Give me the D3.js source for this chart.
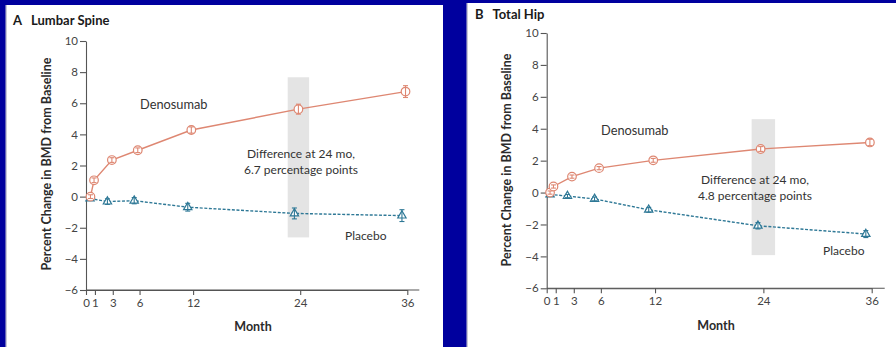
<!DOCTYPE html>
<html>
<head>
<meta charset="utf-8">
<script src="https://cdn.jsdelivr.net/npm/d3@7"></script>
<style>
  html, body { margin: 0; padding: 0; background: #00009e; }
  svg { display: block; }
  text { font-family: Lato, "Noto Sans", sans-serif; }
</style>
</head>
<body>
<svg id="chart" width="896" height="347"></svg>
<script>
// Month ticks shared by both panels
const monthTicks = [0, 1, 3, 6, 12, 24, 36];
const yTicks = [-6, -4, -2, 0, 2, 4, 6, 8, 10];

// Panel A — lumbar spine (% change in BMD)
const spineDenoMonth = [0.5, 0.9, 2.9, 5.8, 11.8, 23.8, 35.8];
const spineDeno      = [0.0, 1.05, 2.35, 2.98, 4.28, 5.62, 6.75];
const spineDenoErr   = [0.12, 0.15, 0.15, 0.15, 0.2, 0.32, 0.38];
const spinePlacMonth = [0.45, 2.4, 5.4, 11.4, 23.35, 35.4];
const spinePlac      = [-0.12, -0.32, -0.26, -0.68, -1.08, -1.22];
const spinePlacErr   = [0.12, 0.18, 0.2, 0.25, 0.35, 0.38];

// Panel B — total hip (% change in BMD)
const hipDenoMonth = [0.37, 0.75, 2.8, 5.8, 11.8, 23.7, 35.8];
const hipDeno      = [0.0, 0.38, 1.0, 1.53, 2.02, 2.73, 3.14];
const hipDenoErr   = [0.1, 0.1, 0.1, 0.1, 0.12, 0.15, 0.2];
const hipPlacMonth = [0.37, 2.3, 5.3, 11.3, 23.4, 35.35];
const hipPlac      = [-0.12, -0.22, -0.4, -1.08, -2.08, -2.6];
const hipPlacErr   = [0.1, 0.1, 0.12, 0.15, 0.2, 0.22];

const svg = d3.select("#chart");
const DENO = "#de8772";
const PLAC = "#2e7896";
const INK = "#2b2b2b";

function panel(cfg) {
  const g = svg.append("g");
  // white card with a thin grey left edge
  g.append("rect").attr("x", cfg.card[0] - 1.5).attr("y", cfg.card[1])
    .attr("width", 1.5).attr("height", 347 - cfg.card[1]).attr("fill", "#c9c9d6");
  g.append("rect").attr("x", cfg.card[0]).attr("y", cfg.card[1])
    .attr("width", cfg.card[2]).attr("height", 347 - cfg.card[1]).attr("fill", "#ffffff");

  const x = d3.scaleLinear().domain([0, 36]).range(cfg.xr);
  const y = d3.scaleLinear().domain([-6, 10]).range(cfg.yr);

  // shaded difference band at 24 months
  g.append("rect")
    .attr("x", x(cfg.band[0])).attr("width", x(cfg.band[1]) - x(cfg.band[0]))
    .attr("y", y(cfg.band[3])).attr("height", y(cfg.band[2]) - y(cfg.band[3]))
    .attr("fill", "#e4e4e4");

  // axes
  const ya = g.append("g").attr("transform", `translate(${x(0)},0)`)
    .call(d3.axisLeft(y).tickValues(yTicks).tickSize(6).tickSizeOuter(0).tickPadding(2));
  const xa = g.append("g").attr("transform", `translate(0,${y(-6)})`)
    .call(d3.axisBottom(x).tickValues(monthTicks).tickSize(5).tickSizeOuter(0).tickPadding(4));
  [ya, xa].forEach(a => {
    a.selectAll("path, line").attr("stroke", "#555").attr("stroke-width", 1.1);
    a.selectAll("text").attr("fill", "#444").style("font-size", "11.5px")
      .style("font-family", "Lato, 'Noto Sans', sans-serif");
  });
  // x-axis line runs a little past the last tick
  g.append("line").attr("x1", x(0)).attr("x2", x(36) + cfg.xExtra)
    .attr("y1", y(-6)).attr("y2", y(-6)).attr("stroke", "#555").attr("stroke-width", 1.1);

  // series
  function series(months, vals, errs, color, dashed, shape) {
    const pts = months.map((m, i) => ({ m, v: vals[i], e: errs[i] }));
    const line = d3.line().x(d => x(d.m)).y(d => y(d.v));
    g.append("path").datum(pts).attr("d", line).attr("fill", "none")
      .attr("stroke", color).attr("stroke-width", 1.4)
      .attr("stroke-dasharray", dashed ? "3,1.6" : null);
    const mk = g.append("g").selectAll("g").data(pts).join("g")
      .attr("transform", d => `translate(${x(d.m)},${y(d.v)})`);
    if (shape === "circle") {
      mk.append("circle").attr("r", 4.3).attr("fill", "#fff").attr("stroke", color).attr("stroke-width", 1.2);
    } else {
      mk.append("path").attr("d", d3.symbol(d3.symbolTriangle, 30)())
        .attr("fill", "#fff").attr("stroke", color).attr("stroke-width", 1.2);
    }
    // error bars drawn through the marker
    mk.append("line").attr("x1", 0).attr("x2", 0)
      .attr("y1", d => y(d.v + d.e) - y(d.v)).attr("y2", d => y(d.v - d.e) - y(d.v))
      .attr("stroke", color).attr("stroke-width", 1.1);
    [1, -1].forEach(s => mk.append("line").attr("x1", -2.5).attr("x2", 2.5)
      .attr("y1", d => y(d.v + s * d.e) - y(d.v)).attr("y2", d => y(d.v + s * d.e) - y(d.v))
      .attr("stroke", color).attr("stroke-width", 1.1));
  }
  series(cfg.pm, cfg.pv, cfg.pe, PLAC, true, "triangle");
  series(cfg.dm, cfg.dv, cfg.de, DENO, false, "circle");

  // titles and labels
  const t = g.append("text").attr("x", cfg.title[0]).attr("y", cfg.title[1])
    .attr("fill", "#1a1a1a").style("font-weight", "bold").style("font-size", "13px");
  t.append("tspan").text(cfg.letter);
  t.append("tspan").attr("dx", 9).text(cfg.name);

  g.append("text").attr("transform", `translate(${cfg.ylab[0]},${cfg.ylab[1]}) rotate(-90)`)
    .attr("text-anchor", "middle").attr("fill", INK)
    .style("font-weight", "bold").style("font-size", "12.5px")
    .text("Percent Change in BMD from Baseline");
  g.append("text").attr("x", cfg.xlab[0]).attr("y", cfg.xlab[1])
    .attr("text-anchor", "middle").attr("fill", INK)
    .style("font-weight", "bold").style("font-size", "12.5px").text("Month");

  g.append("text").attr("x", cfg.deno[0]).attr("y", cfg.deno[1])
    .attr("fill", "#333").style("font-size", "12.8px").text("Denosumab");
  g.append("text").attr("x", cfg.plac[0]).attr("y", cfg.plac[1])
    .attr("fill", "#333").style("font-size", "12px").text("Placebo");
  const diff = g.append("text").attr("text-anchor", "middle").attr("fill", "#333").style("font-size", "12px");
  diff.append("tspan").attr("x", cfg.diff[0]).attr("y", cfg.diff[1]).text("Difference at 24 mo,");
  diff.append("tspan").attr("x", cfg.diff[0]).attr("y", cfg.diff[1] + 16).text(cfg.diffText);
}

panel({
  card: [7, 5, 436], xr: [86, 407.3], yr: [290, 41], xExtra: 12,
  band: [22.6, 25.0, -2.62, 7.67],
  dm: spineDenoMonth, dv: spineDeno, de: spineDenoErr,
  pm: spinePlacMonth, pv: spinePlac, pe: spinePlacErr,
  title: [13, 25], letter: "A", name: "Lumbar Spine",
  ylab: [51, 164], xlab: [253, 331],
  deno: [140, 109], plac: [345, 240],
  diff: [301, 158], diffText: "6.7 percentage points"
});

panel({
  card: [468, 3, 428], xr: [546.7, 871.7], yr: [288.3, 33], xExtra: 13,
  band: [22.7, 25.3, -3.92, 4.6],
  dm: hipDenoMonth, dv: hipDeno, de: hipDenoErr,
  pm: hipPlacMonth, pv: hipPlac, pe: hipPlacErr,
  title: [475, 19], letter: "B", name: "Total Hip",
  ylab: [511, 160], xlab: [716, 330],
  deno: [601, 135], plac: [823, 255],
  diff: [755, 184], diffText: "4.8 percentage points"
});
</script>
</body>
</html>
